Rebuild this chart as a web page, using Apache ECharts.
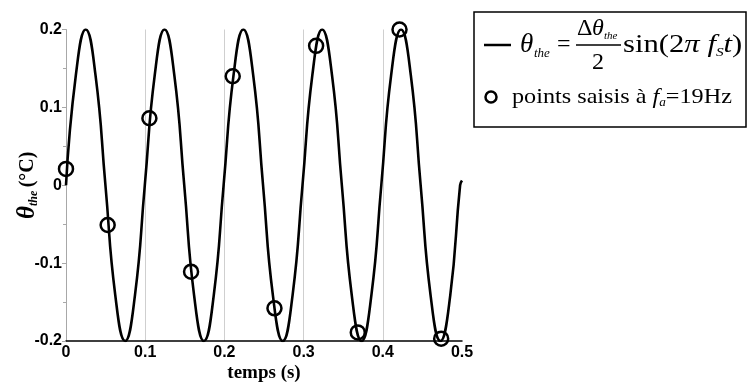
<!DOCTYPE html>
<html>
<head>
<meta charset="utf-8">
<script src="https://cdn.jsdelivr.net/npm/echarts@6/dist/echarts.min.js"></script>
<style>
html,body{margin:0;padding:0;background:#fff;}
#c{width:747px;height:385px;}
</style>
</head>
<body>
<div id="c"></div>
<script>
// Theoretical curve (at eighth-period steps)
var curveT = [0,0.0124,0.0249,0.0373,0.0498,0.0622,0.0746,0.0871,0.0995,0.1120,0.1244,0.1368,0.1493,0.1617,0.1742,0.1866,0.1990,0.2115,0.2239,0.2364,0.2488,0.2612,0.2737,0.2861,0.2986,0.3110,0.3234,0.3359,0.3483,0.3608,0.3732,0.3856,0.3981,0.4105,0.4230,0.4354,0.4478,0.4603,0.4727,0.4852,0.4976,0.5];
var curveY = [0,0.141,0.2,0.141,0,-0.141,-0.2,-0.141,
              0,0.141,0.2,0.141,0,-0.141,-0.2,-0.141,
              0,0.141,0.2,0.141,0,-0.141,-0.2,-0.141,
              0,0.141,0.2,0.141,0,-0.141,-0.2,-0.141,
              0,0.141,0.2,0.141,0,-0.141,-0.2,-0.141,
              0,0.006];
// Sampled points at fa = 19 Hz
var ptT = [0, 0.0526, 0.1053, 0.1579, 0.2105, 0.2632, 0.3158, 0.3684, 0.4211, 0.4737];
var ptY = [0.021, -0.051, 0.086, -0.111, 0.140, -0.158, 0.179, -0.189, 0.200, -0.197];
var xTicks = [0, 0.1, 0.2, 0.3, 0.4, 0.5];
var yTicks = [-0.2, -0.1, 0, 0.1, 0.2];

var curveData = curveT.map(function(t,i){return [t, curveY[i]];});
var ptData = ptT.map(function(t,i){return [t, ptY[i]];});

var serif = '"Liberation Serif", "DejaVu Serif", serif';
var sans = '"Liberation Sans", Arial, sans-serif';

var chart = echarts.init(document.getElementById('c'), null, {renderer:'canvas'});
chart.setOption({
  animation: false,
  backgroundColor: '#fff',
  grid: {left: 66, right: 285, top: 29.5, bottom: 44, containLabel: false, outerBoundsMode: 'none'},
  xAxis: {
    type: 'value', min: xTicks[0], max: xTicks[xTicks.length-1], interval: 0.1,
    axisLine: {show: true, onZero: false, lineStyle: {color: '#000', width: 1.5}},
    axisTick: {show: false},
    splitLine: {show: true, showMinLine: false, showMaxLine: false, lineStyle: {color: '#cfcfcf', width: 1}},
    axisLabel: {fontFamily: sans, fontWeight: 'bold', fontSize: 16, color: '#000', margin: 4,
      formatter: function(v){return String(Math.round(v*10)/10);}},
    name: 'temps (s)', nameLocation: 'middle', nameGap: 23, nameMoveOverlap: false,
    nameTextStyle: {fontFamily: serif, fontWeight: 'bold', fontSize: 19, color: '#000'}
  },
  yAxis: {
    type: 'value', min: yTicks[0], max: yTicks[yTicks.length-1], interval: 0.1,
    axisLine: {show: true, onZero: false, lineStyle: {color: '#a8a8a8', width: 1}},
    axisTick: {show: true, length: 4, lineStyle: {color: '#a8a8a8'}},
    minorTick: {show: true, splitNumber: 2, length: 3, lineStyle: {color: '#a8a8a8'}},
    splitLine: {show: false},
    axisLabel: {fontFamily: sans, fontWeight: 'bold', fontSize: 16, color: '#000', margin: 4,
      formatter: function(v){var r = Math.round(v*10)/10; return r === 0 ? '0' : String(r);}},
    name: '{t|θ}{s|the} {n|(°C)}', nameLocation: 'middle', nameGap: 26, nameRotate: 90, nameMoveOverlap: false,
    nameTextStyle: {
      rich: {
        t: {fontFamily: serif, fontStyle: 'italic', fontWeight: 'bold', fontSize: 25, color: '#000', lineHeight: 24},
        s: {fontFamily: serif, fontStyle: 'italic', fontWeight: 'bold', fontSize: 12, color: '#000', verticalAlign: 'bottom', lineHeight: 14, padding: [6,0,0,0]},
        n: {fontFamily: serif, fontWeight: 'bold', fontSize: 20, color: '#000', lineHeight: 24}
      }
    }
  },
  series: [
    {
      name: 'theta', type: 'line', data: curveData, smooth: true, showSymbol: false, symbol: 'none',
      lineStyle: {color: '#000', width: 2.6}, z: 2
    },
    {
      name: 'points', type: 'scatter', data: ptData, symbol: 'circle', symbolSize: 14,
      itemStyle: {color: 'rgba(0,0,0,0)', borderColor: '#000', borderWidth: 2.5, opacity: 1}, z: 3
    }
  ],
  graphic: [
    {type: 'rect', shape: {x: 474, y: 12, width: 272, height: 115},
     style: {fill: '#fff', stroke: '#000', lineWidth: 1.5}, z: 10},
    {type: 'line', shape: {x1: 484, y1: 45, x2: 511, y2: 45},
     style: {stroke: '#000', lineWidth: 2.5}, z: 11},
    {type: 'text', x: 520, y: 45, z: 11,
     style: {text: 'θ', font: 'italic 27px ' + serif, fill: '#000', verticalAlign: 'middle'}},
    {type: 'text', x: 534, y: 54, z: 11,
     style: {text: 'the', font: 'italic 13px ' + serif, fill: '#000', verticalAlign: 'middle'}},
    {type: 'text', x: 557, y: 45, z: 11,
     style: {text: '=', font: '24px ' + serif, fill: '#000', verticalAlign: 'middle'}},
    {type: 'text', x: 577, y: 29, z: 11,
     style: {text: 'Δ', font: '24px ' + serif, fill: '#000', verticalAlign: 'middle'}},
    {type: 'text', x: 592, y: 29, z: 11,
     style: {text: 'θ', font: 'italic 24px ' + serif, fill: '#000', verticalAlign: 'middle'}},
    {type: 'text', x: 604, y: 36, z: 11,
     style: {text: 'the', font: 'italic 11px ' + serif, fill: '#000', verticalAlign: 'middle'}},
    {type: 'line', shape: {x1: 576, y1: 45, x2: 621, y2: 45},
     style: {stroke: '#000', lineWidth: 1.5}, z: 11},
    {type: 'text', x: 598, y: 63, z: 11,
     style: {text: '2', font: '24px ' + serif, fill: '#000', verticalAlign: 'middle', align: 'center'}},
    {type: 'text', x: 623, y: 45, z: 11, scaleX: 1.18, originX: 0, originY: 0,
     style: {
       text: '{n|sin(2}{i|π }{i|f}{s|S}{i|t}{n|)}',
       verticalAlign: 'middle',
       rich: {
         n: {font: '26px ' + serif, fill: '#000', lineHeight: 28},
         i: {font: 'italic 26px ' + serif, fill: '#000', lineHeight: 28},
         s: {font: 'italic 13px ' + serif, fill: '#000', lineHeight: 13, verticalAlign: 'bottom'}
       }
     }},
    {type: 'circle', shape: {cx: 491, cy: 97, r: 5.5},
     style: {fill: 'none', stroke: '#000', lineWidth: 2.5}, z: 11},
    {type: 'text', x: 512, y: 97, z: 11, scaleX: 1.1, originX: 0, originY: 0,
     style: {
       text: '{n|points saisis à }{i|f}{s|a}{n|=19Hz}',
       verticalAlign: 'middle',
       rich: {
         n: {font: '22px ' + serif, fill: '#000', lineHeight: 24},
         i: {font: 'italic 22px ' + serif, fill: '#000', lineHeight: 24},
         s: {font: 'italic 12px ' + serif, fill: '#000', lineHeight: 12, verticalAlign: 'bottom'}
       }
     }}
  ]
});
</script>
</body>
</html>
